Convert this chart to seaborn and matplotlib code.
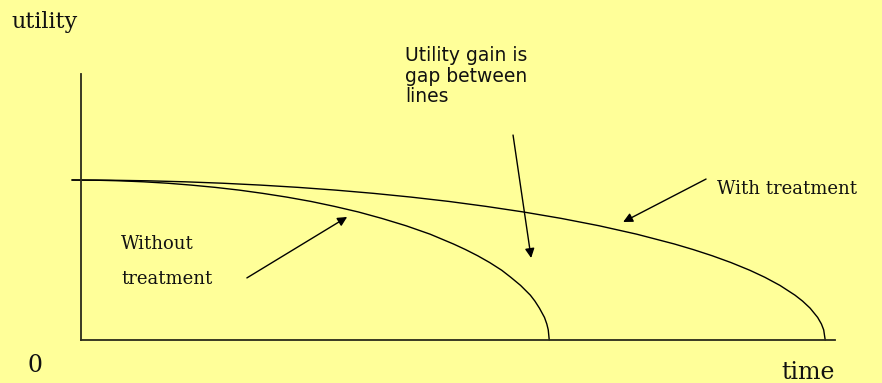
import matplotlib
matplotlib.use('Agg')
import matplotlib.pyplot as plt
import seaborn as sns
import pandas as pd

# punkty (czas, uzytecznosc)
uzyt = [1.0, 0.9987, 0.995, 0.9887, 0.9798, 0.9682, 0.9539, 0.9367, 0.9165, 0.893,
        0.866, 0.8352, 0.8, 0.7599, 0.7141, 0.6614, 0.6, 0.5651, 0.5268, 0.4841,
        0.4359, 0.3919, 0.3412, 0.28, 0.2431, 0.199, 0.1411, 0.0999, 0.0632, 0.0]

czas_bez = [-0.12, 0.20, 0.51, 0.83, 1.15, 1.46, 1.78, 2.10, 2.41, 2.73,
            3.05, 3.36, 3.68, 3.99, 4.31, 4.63, 4.94, 5.10, 5.26, 5.42,
            5.58, 5.70, 5.83, 5.96, 6.02, 6.08, 6.147, 6.178, 6.197, 6.21]

czas_z = [-0.12, 0.38, 0.88, 1.38, 1.88, 2.38, 2.88, 3.38, 3.88, 4.38,
          4.88, 5.37, 5.87, 6.37, 6.87, 7.37, 7.87, 8.12, 8.37, 8.62,
          8.87, 9.07, 9.27, 9.47, 9.57, 9.67, 9.77, 9.82, 9.85, 9.87]

tlo = '#FFFF99'

dane = pd.concat([
    pd.DataFrame({'czas': czas_bez, 'uzytecznosc': uzyt, 'grupa': 'Without treatment'}),
    pd.DataFrame({'czas': czas_z, 'uzytecznosc': uzyt, 'grupa': 'With treatment'}),
])

sns.set_style('white')
fig = plt.figure(figsize=(8.82, 3.83), dpi=100)
fig.patch.set_facecolor(tlo)
ax = fig.add_axes([81 / 882, 43 / 383, 754 / 882, 266 / 383])
ax.set_facecolor(tlo)

sns.lineplot(data=dane, x='czas', y='uzytecznosc', units='grupa', estimator=None,
             color='black', linewidth=1.0, legend=False, clip_on=False, ax=ax)

ax.set_xlim(0, 10)
ax.set_ylim(0, 266 / 160)
ax.set_xticks([])
ax.set_yticks([])
ax.set_xlabel('')
ax.set_ylabel('')
for s in ['top', 'right']:
    ax.spines[s].set_visible(False)
for s in ['left', 'bottom']:
    ax.spines[s].set_color('#2b2b1a')
    ax.spines[s].set_linewidth(1.3)

strzalka = dict(arrowstyle='-|>', color='black', lw=1.0, mutation_scale=14,
                shrinkA=0, shrinkB=0)
serif = 'DejaVu Serif'

# strzalki z opisami
ax.annotate('', xy=(3.53, 0.769), xytext=(2.20, 0.388), arrowprops=strzalka)
ax.annotate('', xy=(7.19, 0.7375), xytext=(8.29, 1.006), arrowprops=strzalka)
ax.annotate('', xy=(5.97, 0.5125), xytext=(5.73, 1.281), arrowprops=strzalka)

ax.text(0.53, 0.60, 'Without', family=serif, fontsize=13, va='center', ha='left',
        color='#111111')
ax.text(0.53, 0.381, 'treatment', family=serif, fontsize=13, va='center', ha='left',
        color='#111111')
ax.text(8.435, 0.944, 'With treatment', family=serif, fontsize=13, va='center',
        ha='left', clip_on=False, color='#111111')
ax.text(4.30, 1.8375, 'Utility gain is\ngap between\nlines', family='DejaVu Sans',
        fontsize=13.5, va='top', ha='left', linespacing=1.1, clip_on=False,
        color='#111111')

fig.text(11 / 882, 1 - 28 / 383, 'utility', family=serif, fontsize=16, va='baseline',
         ha='left', color='#111111')
fig.text(35 / 882, 1 - 366 / 383, '0', family=serif, fontsize=17, va='center',
         ha='center', color='#111111')
fig.text(781 / 882, 1 - 379 / 383, 'time', family=serif, fontsize=17, va='baseline',
         ha='left', color='#111111')

fig.savefig('out.png', dpi=100, facecolor=tlo)
